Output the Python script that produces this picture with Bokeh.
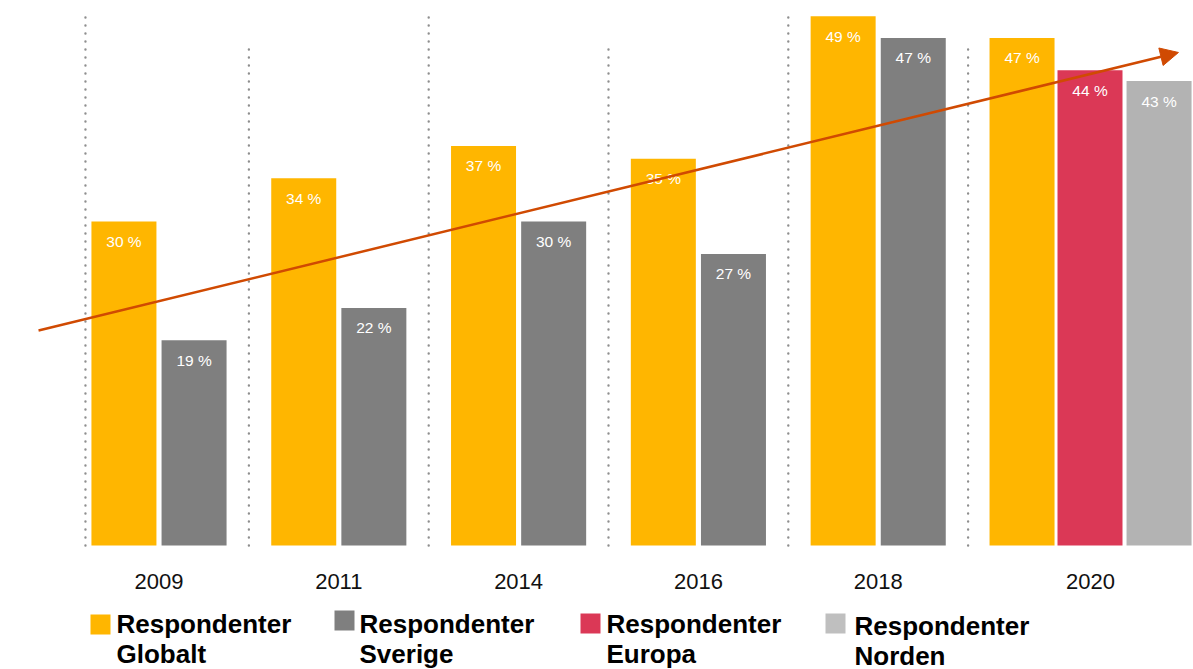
from bokeh.plotting import figure
from bokeh.models import Range1d, Arrow, NormalHead, ColumnDataSource
from bokeh.core.properties import value
from bokeh.embed import file_html
from bokeh.resources import INLINE

# ---------------- data ----------------
years = ["2009", "2011", "2014", "2016", "2018", "2020"]
globalt = [30, 34, 37, 35.8, 49, 47]
globalt_labels = ["30 %", "34 %", "37 %", "35 %", "49 %", "47 %"]
sverige = [19, 22, 30, 27, 47]          # 2009..2018
sverige_labels = ["19 %", "22 %", "30 %", "27 %", "47 %"]
europa = [44]                           # 2020
europa_labels = ["44 %"]
norden = [43]                           # 2020
norden_labels = ["43 %"]
legend_names = [("Respondenter", "Globalt"), ("Respondenter", "Sverige"),
                ("Respondenter", "Europa"), ("Respondenter", "Norden")]
trend_start = (-0.67, 19.9)   # arrow annotation (group index, %)
trend_end = (5.67, 45.65)

# ---------------- styles / layout ----------------
C_GLOB = "#FFB600"
C_SVE = "#7F7F7F"
C_EUR = "#DB3856"
C_NOR = "#B3B3B3"
C_NOR_LEG = "#BFBFBF"
C_ARROW = "#D04A02"
FONT = "Liberation Sans"

W, H = 1193, 669
PX_PER_GROUP = 179.8
X0 = 158.5            # canvas x of group 0 centre
PX_PER_PCT = 10.8
Y0 = 545              # canvas y of 0 %

def xd(cx):
    return (cx - X0) / PX_PER_GROUP

def yd(cy):
    return (Y0 - cy) / PX_PER_PCT

BAR_W = 65 / PX_PER_GROUP
OFF_G, OFF_S = -0.195, 0.195
OFF_2020 = [-0.200, 0.178, 0.562]

p = figure(width=W, height=H, output_backend="svg", toolbar_location=None,
           x_range=Range1d(xd(0), xd(W)), y_range=Range1d(yd(H), yd(0)),
           min_border=0, min_border_left=0, min_border_right=0,
           min_border_top=0, min_border_bottom=0)
p.axis.visible = False
p.grid.visible = False
p.outline_line_color = None
p.background_fill_color = "white"
p.border_fill_color = "white"

n = len(years)

# dotted separators
sep_x = [-0.409] + [i + 0.5 for i in range(n - 1)]
sep_top = [yd(10) if k % 2 == 0 else yd(45) for k in range(len(sep_x))]
p.segment(x0=sep_x, y0=[0] * len(sep_x), x1=sep_x, y1=sep_top,
          line_color="#8F8F8F", line_width=2.4, line_dash="0 8", line_cap="round")

# bars
gx = [i + (OFF_2020[0] if i == n - 1 else OFF_G) for i in range(n)]
sx = [i + OFF_S for i in range(len(sverige))]
ex = [n - 1 + OFF_2020[1]]
nx = [n - 1 + OFF_2020[2]]

def bars(xs, vals, labels, color):
    src = ColumnDataSource(dict(x=xs, top=vals, lab=labels))
    p.vbar(x="x", top="top", bottom=0, width=BAR_W, source=src,
           fill_color=color, line_color=None)
    p.text(x="x", y="top", text="lab", source=src, y_offset=20,
           text_align="center", text_baseline="middle", text_color="white",
           text_font=value(FONT), text_font_size="15.5px")

bars(gx, globalt, globalt_labels, C_GLOB)
bars(sx, sverige, sverige_labels, C_SVE)
bars(ex, europa, europa_labels, C_EUR)
bars(nx, norden, norden_labels, C_NOR)

# trend arrow
p.add_layout(Arrow(end=NormalHead(size=18, fill_color=C_ARROW, line_color=C_ARROW),
                   x_start=trend_start[0], y_start=trend_start[1],
                   x_end=trend_end[0], y_end=trend_end[1],
                   line_color=C_ARROW, line_width=2.5))

# year labels
year_x = [i for i in range(n - 1)] + [(gx[-1] + nx[0]) / 2]
p.text(x=year_x, y=[yd(580.5)] * n, text=years, text_align="center",
       text_baseline="middle", text_color="#111111",
       text_font=value(FONT), text_font_size="22px")

# legend (manual)
leg_sq_x = [90, 334, 580, 825]
leg_sq_top = [614, 610, 613, 613]
leg_txt_x = [116, 359, 606, 854]
leg_mid1 = [623, 623, 623, 625]
leg_colors = [C_GLOB, C_SVE, C_EUR, C_NOR_LEG]
p.rect(x=[xd(v + 10) for v in leg_sq_x], y=[yd(v + 10) for v in leg_sq_top],
       width=20, height=20, width_units="screen", height_units="screen",
       fill_color=leg_colors, line_color=None)
p.text(x=[xd(v) for v in leg_txt_x], y=[yd(v) for v in leg_mid1],
       text=[a for a, b in legend_names], text_align="left",
       text_baseline="middle", text_color="black",
       text_font=value(FONT), text_font_size="26px", text_font_style="bold")
p.text(x=[xd(v) for v in leg_txt_x], y=[yd(v + 30) for v in leg_mid1],
       text=[b for a, b in legend_names], text_align="left",
       text_baseline="middle", text_color="black",
       text_font=value(FONT), text_font_size="26px", text_font_style="bold")

open("out.html", "w").write(file_html(p, INLINE))
